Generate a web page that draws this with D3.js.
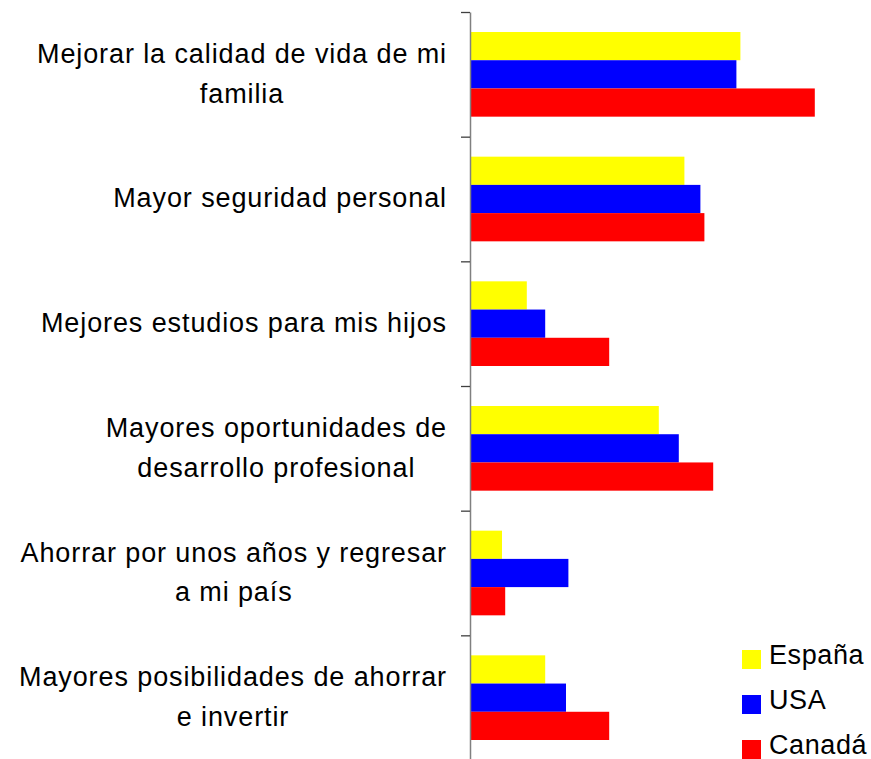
<!DOCTYPE html>
<html>
<head>
<meta charset="utf-8">
<script src="https://cdn.jsdelivr.net/npm/d3@7"></script>
<style>
  body { margin: 0; background: #fff; }
  text { font-family: "Liberation Sans", Arial, sans-serif; fill: #000; }
</style>
</head>
<body>
<svg id="chart"></svg>
<script>
// categories, top to bottom (lines split where the chart wraps them)
let categories = [
  ["Mejorar la calidad de vida de mi", "familia"],
  ["Mayor seguridad personal"],
  ["Mejores estudios para mis hijos"],
  ["Mayores oportunidades de", "desarrollo profesional"],
  ["Ahorrar por unos años y regresar", "a mi país"],
  ["Mayores posibilidades de ahorrar", "e invertir"]
];
let seriesNames = ["España", "USA", "Canadá"];
let seriesColors = ["#ffff00", "#0000ff", "#ff0000"];

// values (%)
let espana = [33.8, 26.8, 7.1, 23.6, 4.0, 9.4];
let usa = [33.3, 28.8, 9.4, 26.1, 12.3, 12.0];
let canada = [43.1, 29.3, 17.4, 30.4, 4.4, 17.4];

let width = 871;
let height = 759;
let axisX = 470;
let plotTop = 12;
let plotBottom = 760;
let fontSize = 27;

let svg = d3.select("#chart").attr("width", width).attr("height", height);

let rows = categories.map((c, i) => ({
  lines: c,
  values: [espana[i], usa[i], canada[i]]
}));

let y = d3
  .scaleBand()
  .domain(d3.range(categories.length))
  .range([plotTop, plotBottom]);

let bw = y.bandwidth();
let ySub = d3
  .scaleBand()
  .domain(d3.range(seriesNames.length))
  .range([20, bw - 20]);

let x = d3.scaleLinear().domain([0, 50]).range([axisX, axisX + 400]);

// bars
let groups = svg
  .append("g")
  .selectAll(".group")
  .data(rows)
  .join("g")
  .attr("class", "group")
  .attr("transform", (d, i) => `translate(0,${y(i)})`);

groups
  .selectAll("rect")
  .data((d) => d.values)
  .join("rect")
  .attr("x", x(0))
  .attr("y", (d, j) => ySub(j))
  .attr("width", (d) => x(d) - x(0))
  .attr("height", ySub.bandwidth())
  .style("fill", (d, j) => seriesColors[j]);

// axis with ticks at band boundaries
let yEdge = d3
  .scaleLinear()
  .domain([0, categories.length])
  .range([plotTop, plotBottom]);
let axis = svg
  .append("g")
  .attr("transform", `translate(${axisX},0)`)
  .call(
    d3
      .axisLeft(yEdge)
      .tickValues(d3.range(categories.length + 1))
      .tickFormat("")
      .tickSize(9)
      .tickSizeOuter(0)
  );
axis.select(".domain").style("stroke", "#808080").style("stroke-width", 1.5);
axis.selectAll(".tick line").style("stroke", "#404040").style("stroke-width", 1.3);

// category labels: block right aligned, lines centered inside it
let labelRight = 447;
let lineGap = 39.5;
groups.each(function (d, i) {
  let g = d3.select(this);
  let cy = bw / 2 - 1;
  let n = d.lines.length;
  let texts = g
    .selectAll(".label")
    .data(d.lines)
    .join("text")
    .attr("class", "label")
    .attr("y", (t, k) => cy + (k - (n - 1) / 2) * lineGap)
    .attr("dy", "0.35em")
    .style("font-size", fontSize + "px")
    .style("letter-spacing", "0.9px")
    .attr("text-anchor", "middle")
    .text((t) => t);
  let maxW = d3.max(texts.nodes(), (nd) => nd.getComputedTextLength());
  texts.attr("x", labelRight - maxW / 2);
});

// legend
let legend = svg
  .append("g")
  .selectAll(".legend")
  .data(seriesNames)
  .join("g")
  .attr("class", "legend")
  .attr("transform", (d, i) => `translate(742,${650 + i * 45})`);

legend
  .append("rect")
  .attr("width", 19)
  .attr("height", 19)
  .style("fill", (d, i) => seriesColors[i]);

legend
  .append("text")
  .attr("x", 27)
  .attr("y", 14)
  .style("font-size", fontSize + "px")
  .style("letter-spacing", "0.6px")
  .text((d) => d);
</script>
</body>
</html>
